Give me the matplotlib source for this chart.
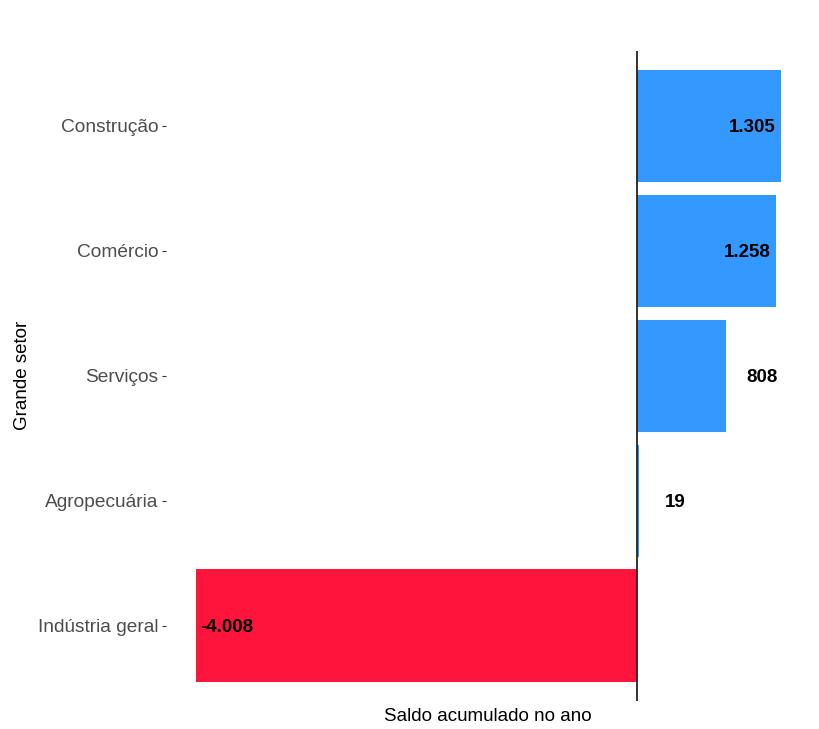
import matplotlib
matplotlib.use("Agg")
import matplotlib.pyplot as plt

plt.rcParams['font.family'] = ['Liberation Sans', 'DejaVu Sans']

setores = ["Construção", "Comércio", "Serviços", "Agropecuária", "Indústria geral"]
saldos = [1305, 1258, 808, 19, -4008]
rotulos = ["1.305", "1.258", "808", "19", "-4.008"]

blue = "#3399FF"
red = "#FF143C"

fig = plt.figure(figsize=(8.2, 7.29), dpi=100)
ax = fig.add_axes([0.203, 0.039, 0.785, 0.891])

ypos = list(range(len(setores)))
colors = [blue if v >= 0 else red for v in saldos]
ax.barh(ypos, saldos, height=0.9, color=colors)
ax.axvline(0, color="#222222", linewidth=1.3)

for y, v, lab in zip(ypos, saldos, rotulos):
    kw = dict(va="center_baseline", fontsize=13.5, fontweight="bold", color="black")
    if v >= 1000:
        ax.text(v - 45, y, lab, ha="right", **kw)
    elif v >= 0:
        ax.text(v + 325, y, lab, ha="center", **kw)
    else:
        ax.text(v + 45, y, lab, ha="left", **kw)

ax.set_ylim(len(setores) - 0.4, -0.6)
rng = max(saldos) - min(saldos)
ax.set_xlim(min(saldos) - 0.05 * rng, max(saldos) + 0.05 * rng)
ax.set_yticks(ypos)
ax.set_yticklabels(setores, fontsize=13.8, color="#4D4D4D")
ax.tick_params(axis="y", length=3, width=0.8, color="#333333", pad=3)
ax.set_xticks([])
for s in ax.spines.values():
    s.set_visible(False)
ax.set_xlabel("Saldo acumulado no ano", fontsize=13.5, color="black", labelpad=5)
ax.set_ylabel("Grande setor", fontsize=13.5, color="black", labelpad=5)

fig.savefig("out.png", dpi=100)
